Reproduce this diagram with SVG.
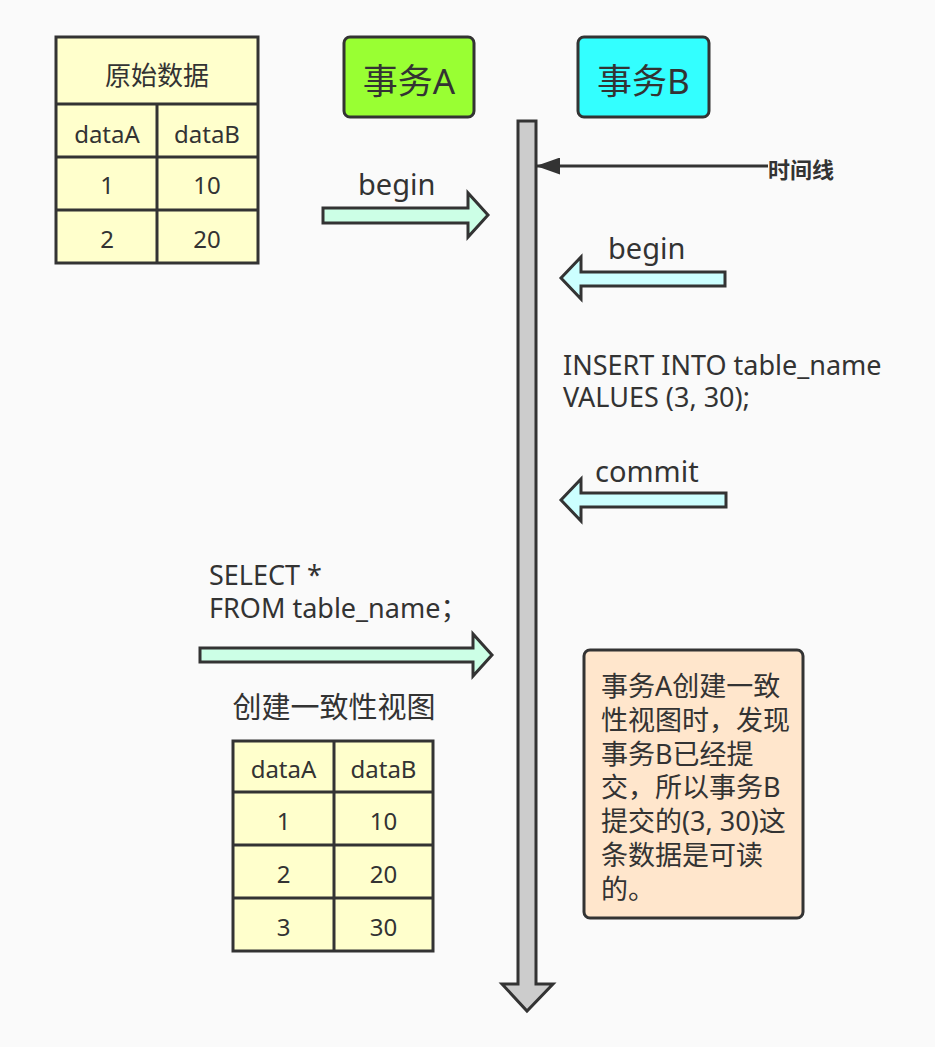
<svg xmlns="http://www.w3.org/2000/svg" width="935" height="1047" viewBox="0 0 935 1047">
<defs>
<style>
text{font-family:"Noto Sans","Noto Sans CJK SC",sans-serif;fill:#333333;}
.tbl{fill:#ffffcc;stroke:#333333;stroke-width:3;}
.ln{stroke:#333333;stroke-width:3;fill:none;}
.cell{font-size:24px;text-anchor:middle;}
.lbl{font-size:29px;}
.sql{font-size:27px;}
.arrA{fill:#ccffe6;stroke:#333333;stroke-width:3;}
.arrB{fill:#ccffff;stroke:#333333;stroke-width:3;}
</style>
<marker id="tri" viewBox="0 0 24 17" refX="24" refY="8.5" markerWidth="24" markerHeight="17" markerUnits="userSpaceOnUse" orient="auto">
<path d="M0,0 L24,8.5 L0,17 z" fill="#333333"/>
</marker>
</defs>
<rect x="0" y="0" width="935" height="1047" fill="#fafafa"/>

<g id="table-original">
<rect class="tbl" x="56" y="37" width="202" height="226"/>
<line class="ln" x1="56" y1="104" x2="258" y2="104"/>
<line class="ln" x1="56" y1="157" x2="258" y2="157"/>
<line class="ln" x1="56" y1="210" x2="258" y2="210"/>
<line class="ln" x1="157" y1="104" x2="157" y2="263"/>
<text x="157" y="85" font-size="26" text-anchor="middle">原始数据</text>
<text class="cell" x="107" y="143">dataA</text>
<text class="cell" x="207" y="143">dataB</text>
<text class="cell" x="107" y="194">1</text>
<text class="cell" x="207" y="194">10</text>
<text class="cell" x="107" y="248">2</text>
<text class="cell" x="207" y="248">20</text>
</g>

<g id="txA">
<rect x="344" y="37" width="130" height="80" rx="6" fill="#99ff33" stroke="#333333" stroke-width="3"/>
<text x="409" y="94" font-size="35" text-anchor="middle">事务A</text>
</g>

<g id="txB">
<rect x="578" y="37" width="131" height="80" rx="6" fill="#33ffff" stroke="#333333" stroke-width="3"/>
<text x="643.5" y="94" font-size="35" text-anchor="middle">事务B</text>
</g>

<g id="timeline">
<polygon points="518,121 536,121 536,984 553,984 527,1011 502,984 518,984" fill="#cccccc" stroke="#333333" stroke-width="3"/>
</g>

<g id="timeline-label">
<text x="768" y="178" font-size="22" font-weight="bold">时间线</text>
</g>

<g id="connectors">
<line x1="768" y1="166" x2="536" y2="166" stroke="#333333" stroke-width="3" marker-end="url(#tri)"/>
<polygon class="arrA" points="323,208 468,208 468,193 488,215 468,237 468,223 323,223"/>
<polygon class="arrB" points="725,272 581,272 581,257 561,278 581,299 581,286 725,286"/>
<polygon class="arrB" points="726,493 581,493 581,479 561,500 581,521 581,507 726,507"/>
<polygon class="arrA" points="200,648 473,648 473,634 492,655 473,676 473,662 200,662"/>
</g>

<g id="label-beginA"><text class="lbl" x="358" y="195">begin</text></g>
<g id="label-beginB"><text class="lbl" x="608" y="259">begin</text></g>
<g id="label-commit"><text class="lbl" x="595" y="482">commit</text></g>

<g id="sql-insert">
<text class="sql" x="563" y="375">INSERT INTO table_name</text>
<text class="sql" x="563" y="407">VALUES (3, 30);</text>
</g>

<g id="sql-select">
<text class="sql" x="209" y="585">SELECT *</text>
<text class="sql" x="209" y="618">FROM table_name；</text>
</g>

<g id="view-title">
<text x="334" y="718" font-size="29" text-anchor="middle">创建一致性视图</text>
</g>

<g id="table-view">
<rect class="tbl" x="233" y="741" width="200" height="210"/>
<line class="ln" x1="233" y1="792" x2="433" y2="792"/>
<line class="ln" x1="233" y1="845" x2="433" y2="845"/>
<line class="ln" x1="233" y1="898" x2="433" y2="898"/>
<line class="ln" x1="334" y1="741" x2="334" y2="951"/>
<text class="cell" x="283.5" y="778">dataA</text>
<text class="cell" x="383.5" y="778">dataB</text>
<text class="cell" x="283.5" y="830">1</text>
<text class="cell" x="383.5" y="830">10</text>
<text class="cell" x="283.5" y="883">2</text>
<text class="cell" x="383.5" y="883">20</text>
<text class="cell" x="283.5" y="936">3</text>
<text class="cell" x="383.5" y="936">30</text>
</g>

<g id="note">
<rect x="584" y="650" width="219" height="268" rx="6" fill="#ffe6cc" stroke="#333333" stroke-width="3"/>
<text font-size="27">
<tspan x="601" y="696">事务A创建一致</tspan>
<tspan x="601" y="730">性视图时，发现</tspan>
<tspan x="601" y="764">事务B已经提</tspan>
<tspan x="601" y="797">交，所以事务B</tspan>
<tspan x="601" y="831">提交的(3, 30)这</tspan>
<tspan x="601" y="865">条数据是可读</tspan>
<tspan x="601" y="899">的。</tspan>
</text>
</g>
</svg>
